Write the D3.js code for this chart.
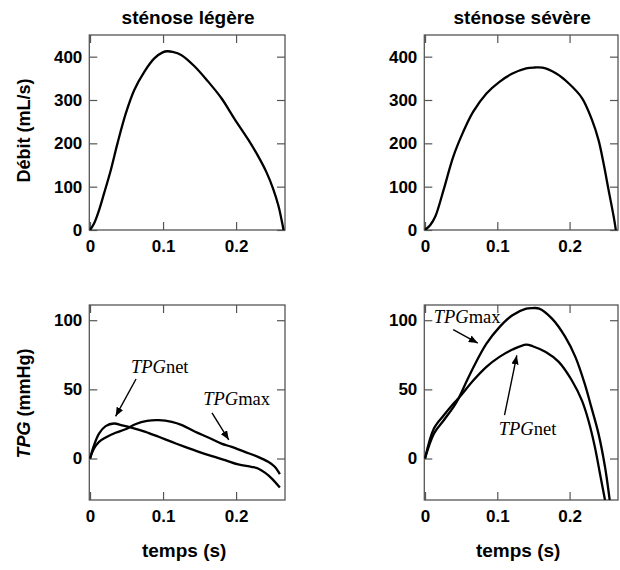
<!DOCTYPE html>
<html>
<head>
<meta charset="utf-8">
<script src="https://cdn.jsdelivr.net/npm/d3@7"></script>
<style>
  html, body { margin: 0; padding: 0; background: #fff; }
  svg { display: block; }
</style>
</head>
<body>
<svg id="chart" width="620" height="570"></svg>
<script>
// ---------- data ----------
const panelTitles = ["sténose légère", "sténose sévère"];
const xTicks = [0, 0.1, 0.2];
const xTickLabels = ["0", "0.1", "0.2"];
const debitTicks = [0, 100, 200, 300, 400];
const tpgTicks = [0, 50, 100];

// Débit, sténose légère
const debitLegereT = [0, 0.0055, 0.0124, 0.0193, 0.0284, 0.0376, 0.049, 0.0606, 0.0743, 0.088, 0.0995, 0.106, 0.113, 0.1248, 0.143, 0.1615, 0.18, 0.198, 0.2165, 0.23, 0.2417, 0.251, 0.258, 0.2633, 0.265];
const debitLegereV = [0, 15, 46, 85, 138, 200, 269, 323, 365, 396, 410, 412.5, 411, 404, 378, 343, 304, 256, 209, 171, 133, 94, 56, 15, 0];

// Débit, sténose sévère
const debitSevereT = [0, 0.0073, 0.0142, 0.0256, 0.039, 0.053, 0.0667, 0.085, 0.103, 0.121, 0.14, 0.1515, 0.1626, 0.181, 0.199, 0.2174, 0.231, 0.24, 0.247, 0.254, 0.261, 0.264];
const debitSevereV = [0, 11.5, 31, 92, 169, 227, 273, 315, 342, 361, 373, 375, 374.5, 361.5, 338, 304, 254, 208, 154, 92, 31, 0];

// TPG, sténose légère
const tpgNetLegereT = [0, 0.0055, 0.0123, 0.0214, 0.0327, 0.044, 0.0577, 0.076, 0.094, 0.112, 0.13, 0.149, 0.167, 0.185, 0.203, 0.221, 0.23, 0.24, 0.249, 0.26];
const tpgNetLegereV = [0, 9.6, 18, 23.4, 25.3, 24, 22.2, 19.3, 15.7, 12, 8.4, 4.8, 1.7, -1.2, -4.3, -6, -7.2, -10.4, -14.5, -21];
const tpgMaxLegereT = [0, 0.0055, 0.0123, 0.0214, 0.035, 0.0486, 0.062, 0.078, 0.094, 0.112, 0.126, 0.144, 0.162, 0.18, 0.194, 0.212, 0.23, 0.244, 0.253, 0.26];
const tpgMaxLegereV = [0, 7.2, 12, 15.2, 18.6, 21.2, 24.8, 27.2, 27.7, 26.5, 24.1, 19.3, 15.2, 10.8, 8.4, 4.8, 1.2, -2.4, -6, -11.3];

// TPG, sténose sévère
const tpgMaxSevereT = [0, 0.0123, 0.026, 0.0395, 0.047, 0.0577, 0.067, 0.085, 0.103, 0.121, 0.14, 0.149, 0.158, 0.176, 0.194, 0.208, 0.221, 0.23, 0.24, 0.249, 0.2555];
const tpgMaxSevereV = [0, 18, 27.7, 37.3, 44, 56, 66, 83, 95, 103.6, 108.4, 108.8, 108.4, 101, 88, 73.5, 54, 37.3, 18, -6, -30];
const tpgNetSevereT = [0, 0.0123, 0.026, 0.0395, 0.047, 0.067, 0.085, 0.103, 0.121, 0.14, 0.149, 0.167, 0.185, 0.203, 0.217, 0.226, 0.235, 0.242, 0.249];
const tpgNetSevereV = [0, 21.7, 31.3, 39.8, 44, 56.6, 66.3, 73.5, 78.8, 82.4, 81.2, 77, 69.9, 56.6, 42, 27.7, 8.4, -10.8, -30];

// annotations: label suffix, text position (t, v), arrow start (t, v), arrow end (t, v)
const annotLegere = [
  { name: "net", text: [0.056, 61.6], from: [0.063, 57.5], to: [0.035, 30.5] },
  { name: "max", text: [0.155, 38.5], from: [0.167, 33], to: [0.19, 13.5] }
];
const annotSevere = [
  { name: "max", text: [0.012, 97.8], from: [0.039, 93.2], to: [0.073, 83.5] },
  { name: "net", text: [0.102, 16.8], from: [0.11, 31.3], to: [0.127, 74.6] }
];

// ---------- layout ----------
const svg = d3.select("#chart");
const colX = [[89.3, 285], [424.3, 618]];
const rowY = [[35, 230], [305, 500]];
const xDomain = [-0.001, 0.267];
const frameColor = "#555";
const SANS = "'Liberation Sans', Arial, sans-serif";
const SERIF = "'Liberation Serif', 'Times New Roman', serif";

const defs = svg.append("defs");
defs.append("marker")
  .attr("id", "arrow")
  .attr("viewBox", "0 0 10 8")
  .attr("refX", 10).attr("refY", 4)
  .attr("markerWidth", 9).attr("markerHeight", 7.5)
  .attr("markerUnits", "userSpaceOnUse")
  .attr("orient", "auto")
  .append("path").attr("d", "M0,0 L10,4 L0,8 Z").attr("fill", "#000");

function zip(T, V) { return T.map((t, i) => ({ t: t, v: V[i] })); }

function panel(ci, ri, yDomain, yTicks, series, annots) {
  const x = d3.scaleLinear().domain(xDomain).range(colX[ci]);
  const y = d3.scaleLinear().domain(yDomain).range([rowY[ri][1], rowY[ri][0]]);
  const g = svg.append("g");
  const id = "clip" + ci + ri;
  defs.append("clipPath").attr("id", id).append("rect")
    .attr("x", colX[ci][0]).attr("y", rowY[ri][0])
    .attr("width", colX[ci][1] - colX[ci][0]).attr("height", rowY[ri][1] - rowY[ri][0]);

  // axes (ticks inward)
  const bottom = g.append("g").attr("transform", `translate(0,${rowY[ri][1]})`)
    .call(d3.axisBottom(x).tickValues(xTicks).tickSize(-8).tickPadding(10)
      .tickFormat((d, i) => xTickLabels[i]));
  const top = g.append("g").attr("transform", `translate(0,${rowY[ri][0]})`)
    .call(d3.axisTop(x).tickValues(xTicks).tickSize(-8).tickFormat(""));
  const left = g.append("g").attr("transform", `translate(${colX[ci][0]},0)`)
    .call(d3.axisLeft(y).tickValues(yTicks).tickSize(-8).tickPadding(7));
  const right = g.append("g").attr("transform", `translate(${colX[ci][1]},0)`)
    .call(d3.axisRight(y).tickValues(yTicks).tickSize(-8).tickFormat(""));
  [bottom, top, left, right].forEach(a => {
    a.select(".domain").remove();
    a.selectAll(".tick line").attr("stroke", frameColor).attr("stroke-width", 1.2);
    a.selectAll("text").attr("font-family", SANS).attr("font-weight", "bold")
      .attr("font-size", 17).attr("fill", "#000");
  });

  // frame
  g.append("rect")
    .attr("x", colX[ci][0]).attr("y", rowY[ri][0])
    .attr("width", colX[ci][1] - colX[ci][0]).attr("height", rowY[ri][1] - rowY[ri][0])
    .attr("fill", "none").attr("stroke", frameColor).attr("stroke-width", 1.3);

  const line = d3.line().x(d => x(d.t)).y(d => y(d.v)).curve(d3.curveCatmullRom.alpha(0.5));
  series.forEach(s => {
    g.append("path").datum(s)
      .attr("clip-path", `url(#${id})`)
      .attr("d", line)
      .attr("fill", "none").attr("stroke", "#000").attr("stroke-width", 2.3)
      .attr("stroke-linejoin", "round");
  });

  (annots || []).forEach(a => {
    const t = g.append("text")
      .attr("x", x(a.text[0])).attr("y", y(a.text[1]))
      .attr("font-family", SERIF).attr("font-size", 18.5).attr("fill", "#000");
    t.append("tspan").attr("font-style", "italic").text("TPG");
    t.append("tspan").text(a.name);
    g.append("line")
      .attr("x1", x(a.from[0])).attr("y1", y(a.from[1]))
      .attr("x2", x(a.to[0])).attr("y2", y(a.to[1]))
      .attr("stroke", "#000").attr("stroke-width", 1.4)
      .attr("marker-end", "url(#arrow)");
  });
}

panel(0, 0, [0, 450], debitTicks, [zip(debitLegereT, debitLegereV)]);
panel(1, 0, [0, 450], debitTicks, [zip(debitSevereT, debitSevereV)]);
panel(0, 1, [-30, 111], tpgTicks, [zip(tpgNetLegereT, tpgNetLegereV), zip(tpgMaxLegereT, tpgMaxLegereV)], annotLegere);
panel(1, 1, [-30, 111], tpgTicks, [zip(tpgMaxSevereT, tpgMaxSevereV), zip(tpgNetSevereT, tpgNetSevereV)], annotSevere);

// titles
panelTitles.forEach((tt, i) => {
  svg.append("text")
    .attr("x", (colX[i][0] + colX[i][1]) / 2 + 1).attr("y", 23.5)
    .attr("text-anchor", "middle")
    .attr("font-family", SANS).attr("font-weight", "bold").attr("font-size", 19)
    .attr("fill", "#000").text(tt);
});

// x axis labels
colX.forEach(c => {
  svg.append("text")
    .attr("x", (c[0] + c[1]) / 2 - 3).attr("y", 557)
    .attr("text-anchor", "middle")
    .attr("font-family", SANS).attr("font-weight", "bold").attr("font-size", 19)
    .attr("fill", "#000").text("temps (s)");
});

// y axis labels
svg.append("text")
  .attr("transform", `translate(24,${(rowY[0][0] + rowY[0][1]) / 2 - 2}) rotate(-90)`)
  .attr("text-anchor", "middle").attr("dy", "0.35em")
  .attr("font-family", SANS).attr("font-weight", "bold").attr("font-size", 18)
  .attr("fill", "#000").text("Débit (mL/s)");

const yl = svg.append("text")
  .attr("transform", `translate(24,${(rowY[1][0] + rowY[1][1]) / 2 + 1}) rotate(-90)`)
  .attr("text-anchor", "middle").attr("dy", "0.35em")
  .attr("font-family", SANS).attr("font-weight", "bold").attr("font-size", 18)
  .attr("fill", "#000");
yl.append("tspan").attr("font-style", "italic").text("TPG");
yl.append("tspan").text(" (mmHg)");
</script>
</body>
</html>
